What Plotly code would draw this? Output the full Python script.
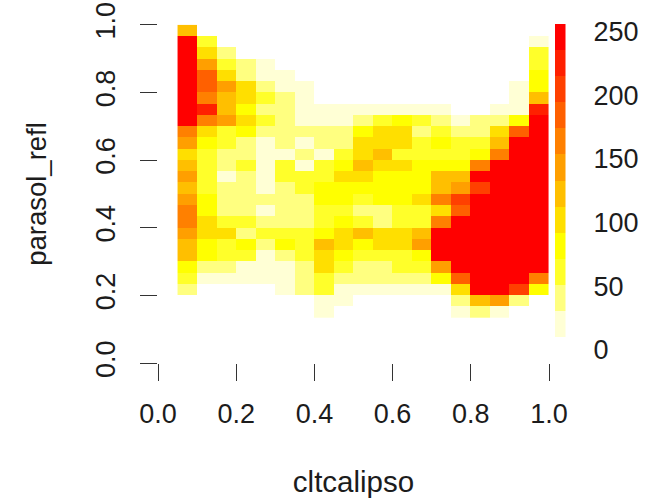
import plotly.graph_objects as go

W, H = 656, 498
FONT = "Liberation Sans"
INK = "#1c1c1c"

# Bin edges (19 cltcalipso bins, 26 parasol_refl bins listed from the top down)
x_edges = [round(0.05 * i, 2) for i in range(1, 21)]
y_edges_top_down = [round((30 - i) / 30, 4) for i in range(0, 27)]

_ = None
counts_top_down = [
    [123, _, _, _, _, _, _, _, _, _, _, _, _, _, _, _, _, _, _],
    [250, 61, _, _, _, _, _, _, _, _, _, _, _, _, _, _, _, _, 20],
    [250, 102, 41, _, _, _, _, _, _, _, _, _, _, _, _, _, _, _, 61],
    [250, 143, 61, 41, 20, _, _, _, _, _, _, _, _, _, _, _, _, _, 61],
    [250, 184, 102, 41, 20, 20, _, _, _, _, _, _, _, _, _, _, _, _, 82],
    [250, 184, 143, 102, 41, 20, 20, _, _, _, _, _, _, _, _, _, _, 20, 82],
    [250, 164, 123, 102, 61, 41, 20, _, _, _, _, _, _, _, _, _, _, 20, 123],
    [250, 225, 123, 82, 41, 41, 20, 20, 20, 20, 20, 20, 20, 20, _, _, 20, 20, 225],
    [250, 164, 143, 102, 61, 41, 20, 20, 20, 41, 61, 82, 61, 41, 20, 41, 41, 82, 250],
    [164, 102, 61, 82, 41, 41, 41, 41, 41, 82, 102, 102, 41, 61, 41, 41, 102, 184, 250],
    [143, 82, 61, 41, 20, 41, 20, 41, 41, 102, 102, 102, 61, 82, 61, 61, 123, 250, 250],
    [102, 61, 41, 41, 20, 20, 41, 20, 61, 102, 123, 61, 61, 61, 61, 82, 164, 250, 250],
    [123, 61, 41, 61, 20, 61, 20, 61, 82, 123, 102, 102, 82, 82, 82, 164, 250, 250, 250],
    [143, 61, 20, 41, 20, 61, 61, 61, 102, 102, 82, 82, 82, 123, 123, 250, 250, 250, 250],
    [123, 61, 41, 41, 20, 41, 61, 82, 82, 82, 82, 82, 82, 123, 143, 205, 250, 250, 250],
    [143, 82, 41, 41, 41, 41, 41, 82, 82, 61, 82, 82, 102, 164, 205, 250, 250, 250, 250],
    [164, 82, 41, 41, 20, 41, 41, 61, 61, 41, 41, 61, 61, 102, 184, 250, 250, 250, 250],
    [164, 102, 61, 61, 41, 41, 41, 61, 82, 61, 41, 61, 61, 164, 250, 250, 250, 250, 250],
    [143, 102, 102, 41, 61, 61, 61, 82, 102, 123, 102, 102, 123, 250, 250, 250, 250, 250, 250],
    [123, 82, 61, 82, 41, 82, 61, 123, 102, 82, 102, 102, 143, 250, 250, 250, 250, 250, 250],
    [123, 82, 61, 61, 20, 41, 61, 102, 82, 61, 61, 61, 82, 250, 250, 250, 250, 250, 250],
    [82, 41, 41, 20, 20, 20, 41, 102, 61, 41, 41, 61, 61, 143, 250, 250, 250, 250, 250],
    [61, 20, 20, 20, 20, 20, 41, 61, 41, 41, 41, 41, 41, 82, 184, 250, 250, 250, 164],
    [41, _, _, _, _, 20, 41, 61, 20, 20, 20, 20, 20, 20, 102, 250, 250, 205, 82],
    [_, _, _, _, _, _, _, 20, 20, _, _, _, _, _, 41, 123, 143, 41, _],
    [_, _, _, _, _, _, _, 20, _, _, _, _, _, _, 20, 41, 20, _, _],
]

# Colour key: twelve equal bands, lowest at the bottom
key_edges = [10.2, 30.7, 51.2, 71.6, 92.1, 112.6, 133.1, 153.6, 174.0, 194.5, 215.0, 235.5, 255.9]
key_colors = ["#FFFFD5", "#FFFF80", "#FFFF2A", "#FFFF00", "#FFDF00", "#FFBF00",
              "#FF9F00", "#FF8000", "#FF6000", "#FF4000", "#FF2000", "#FF0000"]
key_ticks = [0, 50, 100, 150, 200, 250]

x_ticks = [0.0, 0.2, 0.4, 0.6, 0.8, 1.0]
y_ticks = [0.0, 0.2, 0.4, 0.6, 0.8, 1.0]
x_title = "cltcalipso"
y_title = "parasol_refl"

n = len(key_colors)
scale = []
for i, c in enumerate(key_colors):
    scale += [[i / n, c], [(i + 1) / n, c]]
zmin, zmax = key_edges[0], key_edges[-1]

y_edges = y_edges_top_down[::-1]
z = counts_top_down[::-1]
key_mid = [[(a + b) / 2] for a, b in zip(key_edges[:-1], key_edges[1:])]

common = dict(colorscale=scale, zmin=zmin, zmax=zmax, showscale=False, hoverongaps=False)
fig = go.Figure()
fig.add_trace(go.Heatmap(x=x_edges, y=y_edges, z=z, xaxis="x", yaxis="y", **common))
fig.add_trace(go.Heatmap(x=[0, 1], y=key_edges, z=key_mid, xaxis="x2", yaxis="y2", **common))

tick_font = dict(family=FONT, size=27, color=INK)


def dx(px):
    return px / W


def dy(px):
    return 1 - px / H


fig.update_layout(
    template="none",
    width=W, height=H, margin=dict(l=0, r=0, t=0, b=0, pad=0),
    paper_bgcolor="white", plot_bgcolor="white", showlegend=False,
    xaxis=dict(domain=[dx(158), dx(549)], range=[0, 1], anchor="y", automargin=False,
               tickmode="array", tickvals=x_ticks, ticktext=[f"{v:.1f}" for v in x_ticks],
               ticks="outside", ticklen=17, tickwidth=1.4, tickcolor="#333333",
               ticklabelstandoff=9, tickfont=tick_font,
               showgrid=False, zeroline=False, showline=False,
               title=dict(text=x_title, font=dict(family=FONT, size=29.5, color=INK), standoff=47)),
    yaxis=dict(domain=[dy(363.3), dy(24.7)], range=[0, 1], anchor="x", automargin=False,
               tickmode="array", tickvals=y_ticks, ticktext=[f"{v:.1f}" for v in y_ticks],
               ticks="outside", ticklen=17, tickwidth=1.4, tickcolor="#333333",
               tickangle=-90, ticklabelstandoff=14, tickfont=tick_font,
               showgrid=False, zeroline=False, showline=False,
               title=dict(text=y_title, font=dict(family=FONT, size=27.5, color=INK), standoff=36)),
    xaxis2=dict(domain=[dx(555), dx(565.5)], range=[0, 1], anchor="y2", visible=False),
    yaxis2=dict(domain=[dy(350), dy(24)], range=[0, 255.9], anchor="x2", side="right",
                automargin=False,
                tickmode="array", tickvals=key_ticks, ticktext=[str(v) for v in key_ticks],
                ticks="", ticklabelstandoff=27, tickfont=tick_font,
                showgrid=False, zeroline=False, showline=False),
)

fig.write_html("out.html", config={"displayModeBar": False},
               post_script="document.body.style.margin='0';")
